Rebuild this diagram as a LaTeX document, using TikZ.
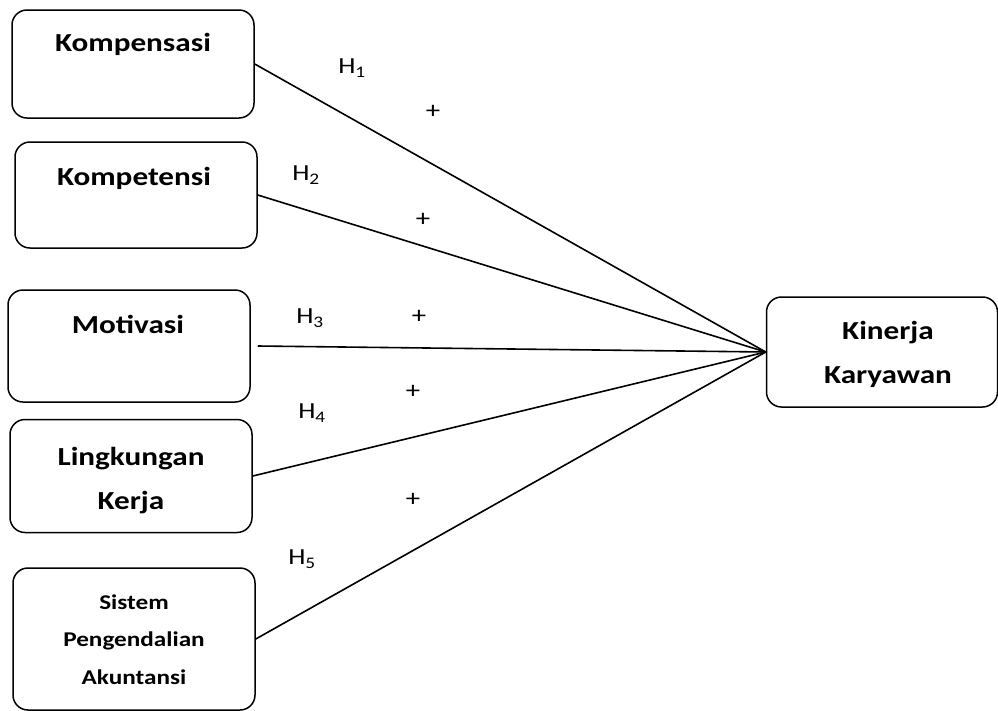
\documentclass[tikz,border=0pt]{standalone}
\usepackage{fontspec}
\setmainfont{Carlito}[FakeStretch=1.2]
\usetikzlibrary{positioning}

\tikzset{
  varbox/.style={draw, line width=1.5pt, rounded corners=15pt, inner sep=0pt,
    minimum width=242pt},
  boxtitle/.style={font=\bfseries\fontsize{26}{44}\selectfont, inner sep=0pt,
    anchor=base, align=center},
  smalltitle/.style={font=\bfseries\fontsize{21}{37.5}\selectfont, inner sep=0pt,
    anchor=base, align=center},
  hyp/.style={font=\fontsize{23}{24}\selectfont, inner sep=0pt},
  plus/.style={font=\fontsize{24}{24}\selectfont, inner sep=0pt},
  link/.style={line width=1.6pt}
}

\begin{document}
\begin{tikzpicture}[x=1pt,y=-1pt]
        \useasboundingbox (0,0) rectangle (998,710);
        \node[varbox, minimum height=108pt] (kmp) at (133,64) {};
        \node[boxtitle] (kmpT) at (133,51) {Kompensasi};
        \node[varbox, minimum height=106pt] (kmt) at (136,195) {};
        \node[boxtitle] (kmtT) at (134,185) {Kompetensi};
        \node[varbox, minimum height=112pt] (mot) at (129,346) {};
        \node[boxtitle] (motT) at (128,333) {Motivasi};
        \node[varbox, minimum height=113pt] (lkk) at (131,476) {};
        \node[boxtitle] (lkkT) at (131,509) {Lingkungan\\Kerja};
        \node[varbox, minimum height=142pt] (spa) at (134,639) {};
        \node[smalltitle] (spaT) at (134,684) {Sistem\\Pengendalian\\Akuntansi};
        \node[varbox, minimum width=231pt, minimum height=110pt] (kin) at (882,352) {};
        \node[boxtitle] (kinT) at (888,383) {Kinerja\\Karyawan};
        \draw[link] (kmp.east) -- (kin.west);
        \draw[link] (kmt.east) -- (kin.west);
        \draw[link] ([xshift=7pt]mot.east) -- (kin.west);
        \draw[link] (lkk.east) -- (kin.west);
        \draw[link] (spa.east) -- (kin.west);
        \node[hyp] (h1) at (352,68) {H\textsubscript{1}};
        \node[hyp] (h2) at (306,175) {H\textsubscript{2}};
        \node[hyp] (h3) at (310,318) {H\textsubscript{3}};
        \node[hyp] (h4) at (312,413) {H\textsubscript{4}};
        \node[hyp] (h5) at (302,559) {H\textsubscript{5}};
        \node[plus] (p1) at (433,112) {+};
        \node[plus] (p2) at (423,220) {+};
        \node[plus] (p3) at (419,317) {+};
        \node[plus] (p4) at (413,392) {+};
        \node[plus] (p5) at (413,500) {+};
\end{tikzpicture}
\end{document}
